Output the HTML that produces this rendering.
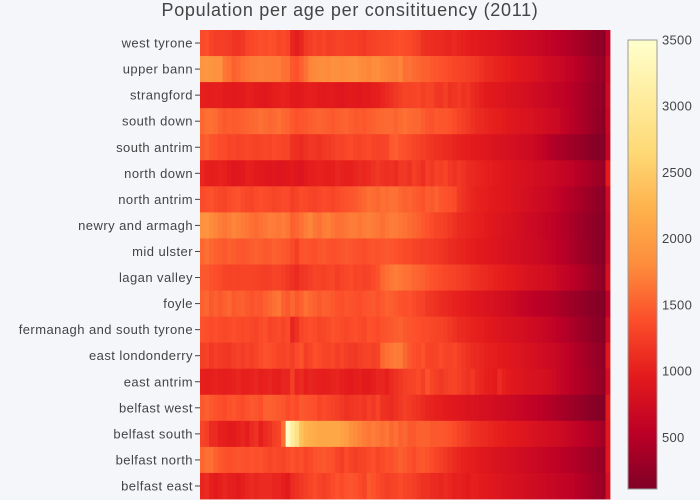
<!DOCTYPE html>
<html><head><meta charset="utf-8"><style>
body{margin:0;background:#f4f6fa;}
svg{display:block;font-family:"Liberation Sans",sans-serif;}
</style></head><body>
<svg id="c" width="700" height="500">
<rect width="700" height="500" fill="#f4f6fa"/>
<text x="350" y="16" text-anchor="middle" font-size="18" letter-spacing="0.7" fill="#444">Population per age per consitituency (2011)</text>
<defs><linearGradient id="cg" x1="0" y1="1" x2="0" y2="0">
<stop offset="0" stop-color="rgb(128,0,38)"/><stop offset="0.125" stop-color="rgb(189,0,38)"/><stop offset="0.25" stop-color="rgb(227,26,28)"/><stop offset="0.375" stop-color="rgb(252,78,42)"/><stop offset="0.5" stop-color="rgb(253,141,60)"/><stop offset="0.625" stop-color="rgb(254,178,76)"/><stop offset="0.75" stop-color="rgb(254,217,118)"/><stop offset="0.875" stop-color="rgb(255,237,160)"/><stop offset="1" stop-color="rgb(255,255,204)"/>
</linearGradient></defs>
<g id="cells"></g>
<g id="ylab"></g>
<rect x="628" y="40" width="29" height="449" fill="url(#cg)" stroke="#999" stroke-width="1"/>
<g id="cbt"></g>
</svg>
<script>
const constituencies=["west tyrone","upper bann","strangford","south down","south antrim","north down","north antrim","newry and armagh","mid ulster","lagan valley","foyle","fermanagh and south tyrone","east londonderry","east antrim","belfast west","belfast south","belfast north","belfast east"];
const cbTicks=[500,1000,1500,2000,2500,3000,3500];
const westTyrone=[1350,1380,1300,1250,1250,1240,1230,1180,1170,1200,1290,1330,1350,1380,1360,1390,1380,1310,1340,1300,1050,980,1060,1200,1250,1290,1270,1310,1250,1260,1300,1280,1260,1250,1270,1230,1210,1260,1280,1300,1320,1310,1340,1360,1380,1360,1340,1300,1250,1150,1120,1110,1090,1100,1060,1050,1080,1040,1020,980,960,950,920,900,880,880,850,820,800,770,760,740,720,700,680,650,620,600,560,530,500,470,440,400,360,320,290,250,220,190,560];
const upperBann=[1900,1920,1880,1850,1870,1650,1600,1500,1550,1620,1650,1680,1700,1720,1690,1700,1680,1700,1620,1600,1440,1400,1500,1620,1750,1780,1800,1820,1790,1850,1840,1800,1830,1850,1870,1800,1780,1760,1800,1820,1760,1740,1720,1700,1750,1600,1620,1580,1550,1500,1500,1450,1420,1400,1380,1350,1320,1300,1280,1250,1230,1200,1150,1100,1080,1050,1020,1000,980,950,920,900,880,860,830,800,760,720,700,680,640,600,560,520,480,430,380,340,290,250,650];
const strangford=[1000,980,990,1000,1000,960,950,940,960,950,1000,980,950,940,920,950,980,1000,1020,1000,950,940,960,980,1000,980,950,940,960,950,920,900,930,950,940,920,950,960,980,1000,1050,1100,1150,1200,1250,1300,1280,1300,1320,1250,1300,1280,1200,1180,1250,1150,1180,1220,1150,1180,1100,1050,1000,960,940,920,900,880,860,840,820,800,780,760,720,700,680,650,620,600,580,540,500,460,420,380,340,300,260,220,700];
const southDown=[1550,1600,1600,1580,1500,1450,1480,1460,1470,1500,1520,1550,1560,1600,1580,1550,1560,1600,1550,1520,1450,1400,1420,1450,1480,1500,1520,1500,1480,1450,1480,1500,1520,1480,1450,1460,1440,1480,1500,1530,1550,1570,1560,1520,1580,1600,1570,1540,1550,1480,1420,1400,1450,1430,1420,1400,1350,1300,1250,1200,1150,1100,1080,1050,1020,1000,980,950,920,900,880,860,850,830,800,780,760,720,700,680,600,560,520,480,430,380,330,280,240,200,650];
const southAntrim=[1450,1500,1420,1400,1350,1350,1300,1320,1280,1300,1320,1300,1280,1300,1320,1300,1340,1320,1300,1300,1150,1120,1100,1150,1200,1180,1150,1200,1220,1250,1300,1280,1320,1350,1300,1280,1320,1350,1300,1280,1300,1320,1450,1480,1400,1380,1350,1300,1280,1250,1200,1180,1150,1120,1100,1080,1050,1020,1000,980,960,940,920,900,880,860,840,820,800,780,760,740,720,700,660,620,560,500,460,420,400,360,320,290,260,240,200,170,150,130,600];
const northDown=[1050,1000,980,1000,1020,1000,950,900,920,940,1000,980,950,940,920,900,920,880,900,920,950,900,880,950,980,1000,1020,1000,980,1000,1050,1020,1000,1000,1050,1080,1060,1100,1150,1200,1150,1120,1150,1100,1200,1200,1150,1250,1200,1120,1250,1200,1280,1250,1300,1200,1150,1200,1150,1100,1080,1050,1020,1000,980,950,930,900,880,860,840,820,800,780,760,740,720,700,680,650,620,600,560,520,480,440,400,360,320,280,950];
const northAntrim=[1350,1380,1400,1350,1320,1300,1350,1380,1400,1350,1320,1300,1350,1380,1350,1330,1300,1320,1350,1340,1250,1300,1350,1330,1300,1280,1320,1350,1330,1300,1350,1380,1400,1420,1450,1500,1550,1600,1580,1550,1600,1580,1620,1600,1550,1500,1520,1480,1450,1400,1480,1450,1500,1420,1400,1380,1350,1200,1150,1100,1050,1020,1000,980,960,940,920,900,880,860,830,800,780,760,720,700,680,650,620,580,540,500,460,420,380,340,300,260,220,180,700];
const newryArmagh=[1850,1900,1800,1750,1700,1650,1700,1750,1720,1680,1650,1600,1580,1620,1650,1700,1680,1650,1700,1640,1500,1550,1600,1700,1750,1650,1600,1680,1720,1650,1600,1620,1650,1700,1680,1650,1700,1720,1680,1650,1600,1650,1700,1680,1650,1620,1580,1550,1500,1450,1400,1350,1300,1280,1250,1200,1150,1100,1080,1050,1020,1000,980,950,920,900,880,860,840,820,780,750,720,700,680,650,620,600,560,520,480,440,400,360,320,280,250,220,190,160,650];
const midUlster=[1550,1600,1550,1500,1480,1450,1500,1480,1450,1420,1450,1480,1500,1480,1450,1460,1500,1480,1450,1420,1350,1250,1400,1420,1400,1380,1420,1450,1400,1380,1400,1420,1450,1420,1400,1380,1360,1400,1420,1400,1420,1450,1430,1400,1380,1350,1340,1300,1280,1250,1250,1220,1200,1180,1150,1100,1080,1050,1030,1000,980,960,940,920,900,880,860,840,820,800,780,760,740,720,700,680,650,620,580,540,500,460,420,380,340,300,260,220,180,150,700];
const laganValley=[1450,1450,1400,1380,1350,1300,1280,1300,1280,1300,1300,1300,1280,1270,1250,1260,1300,1280,1250,1200,1150,1100,1180,1200,1250,1300,1280,1270,1300,1320,1250,1300,1320,1350,1300,1320,1280,1300,1350,1400,1550,1600,1650,1700,1650,1620,1600,1550,1520,1500,1450,1400,1380,1350,1320,1300,1280,1250,1220,1200,1150,1120,1100,1080,1050,1020,1000,980,960,940,900,880,850,820,800,780,760,740,700,660,620,580,540,500,450,400,350,300,250,200,800];
const foyle=[1500,1550,1450,1500,1450,1500,1550,1450,1480,1500,1450,1400,1450,1420,1500,1550,1600,1650,1500,1450,1550,1450,1500,1600,1550,1500,1450,1500,1480,1450,1400,1380,1420,1400,1380,1360,1400,1420,1450,1400,1450,1500,1480,1450,1400,1380,1400,1350,1300,1280,1200,1180,1150,1100,1080,1050,1020,1000,980,950,920,900,880,860,840,800,780,760,740,700,650,620,600,560,540,520,500,480,460,420,380,350,320,290,260,230,200,180,150,130,550];
const fermanagh=[1400,1380,1350,1380,1350,1330,1350,1380,1350,1330,1350,1320,1300,1350,1380,1300,1320,1350,1300,1350,1050,1150,1300,1350,1380,1350,1300,1320,1350,1400,1380,1350,1320,1350,1380,1350,1320,1400,1380,1350,1400,1420,1450,1480,1500,1450,1420,1400,1380,1350,1350,1320,1300,1280,1250,1200,1150,1100,1080,1050,1020,1000,980,950,920,900,880,860,840,820,800,780,750,720,700,680,650,620,580,540,500,460,420,380,340,300,260,220,190,160,700];
const eastLondonderry=[1250,1280,1200,1250,1220,1200,1180,1250,1280,1230,1280,1250,1300,1350,1400,1380,1350,1300,1280,1320,1250,1350,1400,1250,1300,1380,1350,1300,1280,1320,1250,1300,1250,1220,1200,1250,1280,1300,1250,1300,1550,1600,1650,1700,1680,1550,1450,1380,1350,1400,1300,1280,1300,1350,1300,1280,1320,1250,1200,1150,1100,1080,1050,1020,1000,980,960,940,920,900,880,850,820,800,780,750,720,700,680,640,600,560,520,480,430,380,340,300,260,220,900];
const eastAntrim=[1000,980,1000,1020,1000,980,1000,1020,1050,1000,1000,1020,1050,1000,1020,1050,1000,980,1050,1050,1250,1050,1100,1000,1050,1020,1000,980,1000,1030,1050,1000,970,960,980,1000,950,960,1000,1050,1050,1000,1100,1150,1200,1250,1280,1300,1350,1250,1400,1300,1250,1200,1250,1280,1300,1250,1200,1150,1200,1100,1050,1000,980,950,1100,1000,950,920,900,880,860,840,820,800,780,750,700,650,600,560,520,480,440,400,360,320,280,240,750];
const belfastWest=[1450,1500,1450,1400,1380,1350,1400,1420,1380,1350,1400,1450,1420,1380,1500,1500,1480,1450,1420,1350,1400,1350,1450,1420,1400,1380,1300,1350,1320,1280,1250,1200,1150,1180,1200,1220,1180,1250,1200,1280,1150,1130,1100,1150,1200,1250,1220,1180,1150,1100,1050,1030,1000,980,960,940,920,900,880,860,850,830,810,800,780,760,740,720,700,680,650,630,600,580,560,540,500,470,440,410,380,350,320,290,260,230,200,170,150,130,950];
const belfastSouth=[1300,1250,1100,1100,1000,980,950,950,1000,1050,980,1100,1150,1000,1100,1150,1250,1300,1600,3450,3100,2800,2400,2250,2200,2150,2100,2100,2100,2100,2100,2050,2000,1850,1800,1750,1700,1650,1700,1650,1600,1650,1550,1600,1500,1550,1450,1450,1500,1500,1500,1450,1450,1450,1420,1400,1350,1300,1250,1200,1150,1120,1100,1080,1050,1020,1000,980,960,940,920,900,880,850,820,800,780,760,740,720,680,650,620,580,550,520,480,440,400,350,900];
const belfastNorth=[1550,1600,1600,1500,1450,1400,1380,1400,1420,1400,1380,1400,1380,1400,1350,1300,1350,1320,1300,1350,1400,1350,1380,1300,1350,1400,1420,1450,1400,1380,1300,1250,1350,1300,1250,1280,1300,1350,1380,1300,1350,1400,1380,1450,1500,1450,1400,1350,1420,1450,1400,1350,1300,1250,1200,1150,1100,1050,1020,1000,980,950,920,900,880,860,840,820,800,780,760,740,720,700,680,650,620,600,580,560,520,500,470,440,410,380,350,320,290,260,900];
const belfastEast=[1050,1100,1000,950,1000,1050,1000,980,950,1000,1050,1100,1050,1100,1100,1100,1050,1050,1000,950,1100,1150,1200,1250,1300,1350,1300,1250,1300,1350,1400,1350,1400,1420,1400,1350,1300,1450,1400,1350,1300,1250,1280,1300,1350,1300,1280,1250,1200,1150,1150,1100,1080,1050,1100,1050,1000,1020,980,960,1000,980,960,940,920,900,880,860,840,820,800,780,760,740,720,700,680,660,640,620,600,580,560,520,480,440,400,360,320,280,800];
const rows=[westTyrone,upperBann,strangford,southDown,southAntrim,northDown,northAntrim,newryArmagh,midUlster,laganValley,foyle,fermanagh,eastLondonderry,eastAntrim,belfastWest,belfastSouth,belfastNorth,belfastEast];

const NS="http://www.w3.org/2000/svg";
const X0=200,X1=610,Y0=30,Y1=499,ZMIN=110,ZMAX=3500;
const stops=[[128,0,38],[189,0,38],[227,26,28],[252,78,42],[253,141,60],[254,178,76],[254,217,118],[255,237,160],[255,255,204]];
function color(v){let t=Math.max(0,Math.min(1,(v-ZMIN)/(ZMAX-ZMIN)))*8;let i=Math.min(7,Math.floor(t)),f=t-i;const a=stops[i],b=stops[i+1];return `rgb(${Math.round(a[0]+(b[0]-a[0])*f)},${Math.round(a[1]+(b[1]-a[1])*f)},${Math.round(a[2]+(b[2]-a[2])*f)})`;}
function xPos(i,n){return X0+(X1-X0)*i/n;}
function yPos(r){return Y0+(Y1-Y0)*r/constituencies.length;}
function cbY(v){return 489-(v-ZMIN)/(ZMAX-ZMIN)*449;}
const cells=document.getElementById('cells');
rows.forEach((row,r)=>{const n=row.length;row.forEach((v,i)=>{
const el=document.createElementNS(NS,'rect');
const x=xPos(i,n),w=xPos(i+1,n)-x;
el.setAttribute('x',x.toFixed(2));el.setAttribute('y',yPos(r).toFixed(2));
el.setAttribute('width',(w+0.4).toFixed(2));el.setAttribute('height',(yPos(r+1)-yPos(r)+0.4).toFixed(2));
el.setAttribute('fill',color(v));


cells.appendChild(el);});});
const yl=document.getElementById('ylab');
constituencies.forEach((c,r)=>{const cy=(yPos(r)+yPos(r+1))/2;
const t=document.createElementNS(NS,'text');
t.setAttribute('x',193);t.setAttribute('y',cy+4.5);t.setAttribute('text-anchor','end');t.setAttribute('font-size','13');t.setAttribute('letter-spacing','0.45');t.setAttribute('fill','#444');t.textContent=c;


yl.appendChild(t);
const l=document.createElementNS(NS,'line');
l.setAttribute('x1',195);l.setAttribute('x2',200);l.setAttribute('y1',cy);l.setAttribute('y2',cy);l.setAttribute('stroke','#444');


yl.appendChild(l);});
const cb=document.getElementById('cbt');
cbTicks.forEach(v=>{const t=document.createElementNS(NS,'text');
t.setAttribute('x',662);t.setAttribute('y',cbY(v)+4.5);t.setAttribute('font-size','13');t.setAttribute('letter-spacing','0.3');t.setAttribute('fill','#444');t.textContent=v;


cb.appendChild(t);});
</script>
</body></html>
